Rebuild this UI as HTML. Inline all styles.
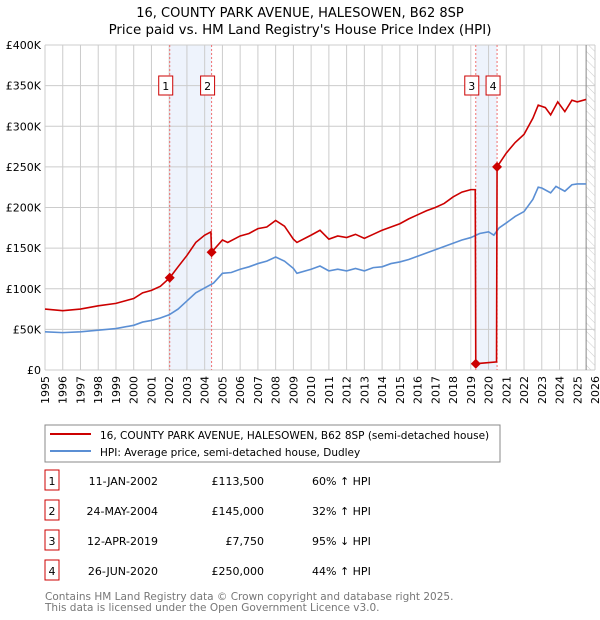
<!DOCTYPE html>
<html><head><meta charset="utf-8"><style>
body{margin:0;background:#fff;font-family:"DejaVu Sans","Liberation Sans",sans-serif;}
svg{display:block}
</style></head><body>
<svg id="chart" width="600" height="620" xmlns="http://www.w3.org/2000/svg" font-family="DejaVu Sans, Liberation Sans, sans-serif">
<defs><pattern id="hatch" width="6" height="6" patternUnits="userSpaceOnUse" patternTransform="rotate(-45)"><line x1="0" y1="0" x2="0" y2="6" stroke="#ccc" stroke-width="1"/></pattern></defs>
<text x="300" y="17" text-anchor="middle" font-size="13">16, COUNTY PARK AVENUE, HALESOWEN, B62 8SP</text>
<text x="300" y="34" text-anchor="middle" font-size="13.4">Price paid vs. HM Land Registry's House Price Index (HPI)</text>
<g id="plot"></g>
<rect x="45" y="425" width="455" height="37" fill="none" stroke="#888"/>
<line x1="50" y1="434" x2="91" y2="434" stroke="#cc0000" stroke-width="2"/>
<text x="100" y="439" font-size="10.5">16, COUNTY PARK AVENUE, HALESOWEN, B62 8SP (semi-detached house)</text>
<line x1="50" y1="451" x2="91" y2="451" stroke="#5b8fd4" stroke-width="2"/>
<text x="100" y="456" font-size="10.5">HPI: Average price, semi-detached house, Dudley</text>
<g id="table" font-size="11"></g>
<text x="45" y="600" font-size="10.5" fill="#777">Contains HM Land Registry data © Crown copyright and database right 2025.</text>
<text x="45" y="611" font-size="10.5" fill="#777">This data is licensed under the Open Government Licence v3.0.</text>
</svg>
<script>
const yTicks=[0,50,100,150,200,250,300,350,400];
const yTickLabels=["£0","£50K","£100K","£150K","£200K","£250K","£300K","£350K","£400K"];
const years=[1995,1996,1997,1998,1999,2000,2001,2002,2003,2004,2005,2006,2007,2008,2009,2010,2011,2012,2013,2014,2015,2016,2017,2018,2019,2020,2021,2022,2023,2024,2025,2026];
const hpiX=[1995,1996,1997,1998,1999,2000,2000.5,2001,2001.5,2002,2002.5,2003,2003.5,2004,2004.5,2005,2005.5,2006,2006.5,2007,2007.5,2008,2008.5,2009,2009.2,2010,2010.5,2011,2011.5,2012,2012.5,2013,2013.5,2014,2014.5,2015,2015.5,2016,2016.5,2017,2017.5,2018,2018.5,2019,2019.5,2020,2020.3,2020.6,2021,2021.5,2022,2022.5,2022.8,2023,2023.5,2023.8,2024.3,2024.7,2025,2025.5];
const hpiY=[47,46,47,49,51,55,59,61,64,68,75,85,95,101,107,119,120,124,127,131,134,139,134,125,119,124,128,122,124,122,125,122,126,127,131,133,136,140,144,148,152,156,160,163,168,170,166,175,181,189,195,210,225,224,218,226,220,228,229,229];
const propX=[1995,1996,1997,1998,1999,2000,2000.5,2001,2001.5,2002.03,2002.5,2003,2003.5,2004,2004.35,2004.39,2005,2005.3,2006,2006.5,2007,2007.5,2008,2008.5,2009,2009.2,2010,2010.5,2011,2011.5,2012,2012.5,2013,2013.5,2014,2014.5,2015,2015.5,2016,2016.5,2017,2017.5,2018,2018.5,2019,2019.25,2019.28,2020.45,2020.48,2021,2021.5,2022,2022.5,2022.8,2023.2,2023.5,2023.9,2024.3,2024.7,2025,2025.5];
const propY=[75,73,75,79,82,88,95,98,103,113.5,127,141,157,166,170,145,160,157,165,168,174,176,184,177,161,157,166,172,161,165,163,167,162,167,172,176,180,186,191,196,200,205,213,219,222,222,7.75,10,250,267,280,290,310,326,323,314,330,318,332,330,333];
const saleX=[2002.03,2004.39,2019.28,2020.48];
const saleY=[113.5,145,7.75,250];
const saleLabels=["1","2","3","4"];
const saleDates=["11-JAN-2002","24-MAY-2004","12-APR-2019","26-JUN-2020"];
const salePrices=["£113,500","£145,000","£7,750","£250,000"];
const saleHpi=["60% ↑ HPI","32% ↑ HPI","95% ↓ HPI","44% ↑ HPI"];
const X0=45,X1=595,Y0=370,Y1=45;
const xs=v=>X0+(v-1995)/31*(X1-X0);
const ys=v=>Y0-v/400*(Y0-Y1);
const NS="http://www.w3.org/2000/svg";
const plot=document.getElementById('plot');
function mk(tag,attrs,parent){const e=document.createElementNS(NS,tag);for(const k in attrs)e.setAttribute(k,attrs[k]);(parent||plot).appendChild(e);return e;}
let e;
e=mk('rect',{x:xs(saleX[0]),y:Y1,width:xs(saleX[1])-xs(saleX[0]),height:Y0-Y1,fill:'#eef3fc'});


e=mk('rect',{x:xs(saleX[2]),y:Y1,width:xs(saleX[3])-xs(saleX[2]),height:Y0-Y1,fill:'#eef3fc'});


e=mk('rect',{x:xs(2025.5),y:Y1,width:X1-xs(2025.5),height:Y0-Y1,fill:'url(#hatch)'});


years.forEach(y=>{
 e=mk('line',{x1:xs(y),x2:xs(y),y1:Y1,y2:Y0,stroke:'#ccc'});
 
 
 e=mk('text',{x:0,y:0,'font-size':11,'text-anchor':'end',transform:`translate(${xs(y)+4},${Y0+6}) rotate(-90)`});
 e.textContent=y;
 
 
});
yTicks.forEach((t,i)=>{
 e=mk('line',{x1:X0,x2:X1,y1:ys(t),y2:ys(t),stroke:'#ccc'});
 
 
 e=mk('text',{x:X0-4,y:ys(t)+4,'font-size':11,'text-anchor':'end'});
 e.textContent=yTickLabels[i];
 
 
});
e=mk('line',{x1:xs(2025.5),x2:xs(2025.5),y1:Y1,y2:Y0,stroke:'#888'});


saleX.forEach((s,i)=>{
 e=mk('line',{x1:xs(s),x2:xs(s),y1:Y1,y2:Y0,stroke:'#f07070','stroke-dasharray':'2,2'});
 
 
});
e=mk('polyline',{points:hpiX.map((x,i)=>xs(x)+','+ys(hpiY[i])).join(' '),fill:'none',stroke:'#5b8fd4','stroke-width':1.6});


e=mk('polyline',{points:propX.map((x,i)=>xs(x)+','+ys(propY[i])).join(' '),fill:'none',stroke:'#cc0000','stroke-width':1.6});


saleX.forEach((s,i)=>{
 const cx=xs(s),cy=ys(saleY[i]);
 e=mk('polygon',{points:`${cx},${cy-5} ${cx+5},${cy} ${cx},${cy+5} ${cx-5},${cy}`,fill:'#cc0000'});
 
 
 e=mk('rect',{x:cx-11,y:76,width:14,height:19,fill:'#fff',stroke:'#cc0000'});
 
 
 e=mk('text',{x:cx-4,y:90,'font-size':11,'text-anchor':'middle'});
 e.textContent=saleLabels[i];
 
 
});
const tb=document.getElementById('table');
saleLabels.forEach((l,i)=>{
 const y=484+i*30;
 e=mk('rect',{x:45,y:y-14,width:14,height:20,fill:'#fff',stroke:'#cc0000'},tb);
 
 
 e=mk('text',{x:52,y:y+1,'text-anchor':'middle'},tb);e.textContent=l;
 
 
 e=mk('text',{x:158,y:y+1,'text-anchor':'end'},tb);e.textContent=saleDates[i];
 
 
 e=mk('text',{x:264,y:y+1,'text-anchor':'end'},tb);e.textContent=salePrices[i];
 
 
 e=mk('text',{x:312,y:y+1},tb);e.textContent=saleHpi[i];
 
 
});
</script>
</body></html>
